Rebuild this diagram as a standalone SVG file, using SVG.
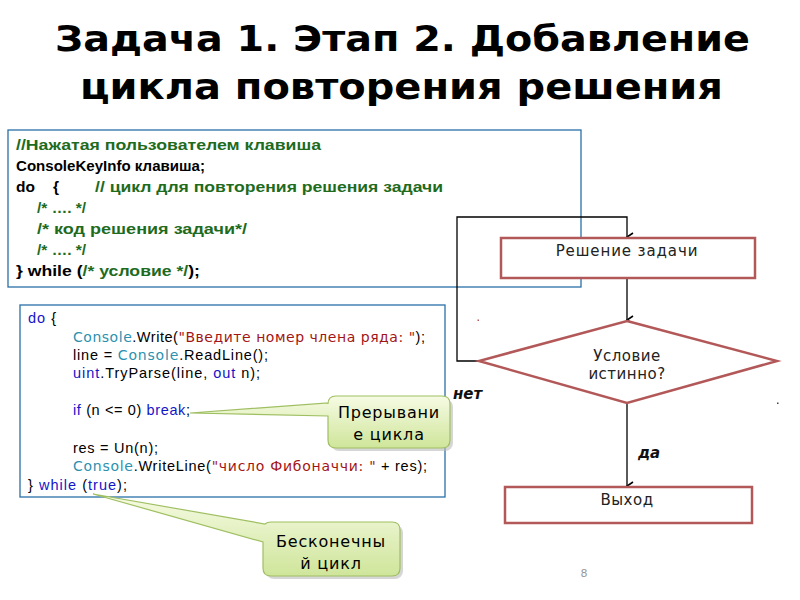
<svg xmlns="http://www.w3.org/2000/svg" width="800" height="600" viewBox="0 0 800 600">
<defs>
<linearGradient id="cg" x1="0" y1="0" x2="0" y2="1">
<stop offset="0" stop-color="#f6fbe4"/>
<stop offset="1" stop-color="#cfe59a"/>
</linearGradient>
<marker id="arr" viewBox="0 0 10 10" refX="5" refY="9" markerWidth="10" markerHeight="10" markerUnits="userSpaceOnUse" orient="auto-start-reverse">
<path d="M1,3 L5,9 L9,3" fill="none" stroke="#000" stroke-width="1.6"/>
</marker>
<style>
.title{font-family:"DejaVu Sans",sans-serif;font-weight:bold;font-size:35px;fill:#000}
.c1{font-family:"Liberation Sans",Arial,sans-serif;font-weight:bold;font-size:15.5px;fill:#000}
.g{fill:#1e6b1e}
.c2{font-family:"Liberation Sans",Arial,sans-serif;font-size:14.5px;fill:#000}
.t{fill:#2b91af;font-family:"DejaVu Sans",sans-serif;font-size:14px}
.s{fill:#a31515;font-family:"DejaVu Sans",sans-serif;font-size:14px}
.k{fill:#1414c8}
.box{fill:#fff;stroke:#2a6fa8;stroke-width:1.3}
.fn{fill:#fff;stroke:#b35858;stroke-width:2.5}
.ft{font-family:"DejaVu Sans",sans-serif;font-size:15px;fill:#222;text-anchor:middle;letter-spacing:0.5px}
.lbl{font-family:"DejaVu Sans",sans-serif;font-size:15px;font-weight:bold;font-style:italic;fill:#111}
.co{fill:url(#cg);stroke:#9fbf62;stroke-width:1.2}
.cs{fill:#bbb;opacity:0.6}
.ct{font-family:"DejaVu Sans",sans-serif;font-size:16px;fill:#000;text-anchor:middle;letter-spacing:0.8px}
.ln{fill:none;stroke:#000;stroke-width:1.3}
</style>
</defs>
<rect width="800" height="600" fill="#fff"/>
<text class="title" x="55" y="51" textLength="695" lengthAdjust="spacingAndGlyphs">Задача 1. Этап 2. Добавление</text>
<text class="title" x="80" y="99" textLength="643" lengthAdjust="spacingAndGlyphs">цикла повторения решения</text>

<g id="code1">
<rect class="box" x="8" y="130" width="573" height="157"/>
<text class="c1 g" x="16" y="150" textLength="305" lengthAdjust="spacingAndGlyphs">//Нажатая пользователем клавиша</text>
<text class="c1" x="16" y="171" textLength="189" lengthAdjust="spacingAndGlyphs">ConsoleKeyInfo клавиша;</text>
<text class="c1" x="16" y="192">do</text>
<text class="c1" x="53" y="192">{</text>
<text class="c1 g" x="95" y="192" textLength="348" lengthAdjust="spacingAndGlyphs">// цикл для повторения решения задачи</text>
<text class="c1 g" x="37" y="213">/* …. */</text>
<text class="c1 g" x="37" y="234" textLength="210" lengthAdjust="spacingAndGlyphs">/* код решения задачи*/</text>
<text class="c1 g" x="37" y="255">/* …. */</text>
<text class="c1" x="16" y="276" textLength="184" lengthAdjust="spacingAndGlyphs">} while (<tspan class="g">/* условие */</tspan>);</text>
</g>

<g id="code2">
<rect class="box" x="20" y="305" width="425" height="192"/>
<text class="c2" x="28" y="323" textLength="28"><tspan class="k">do</tspan> {</text>
<text class="c2" x="73" y="342" textLength="352"><tspan class="t">Console</tspan>.Write(<tspan class="s">"Введите номер члена ряда: "</tspan>);</text>
<text class="c2" x="73" y="360" textLength="195">line = <tspan class="t">Console</tspan>.ReadLine();</text>
<text class="c2" x="73" y="378" textLength="187"><tspan class="k">uint</tspan>.TryParse(line, <tspan class="k">out</tspan> n);</text>
<text class="c2" x="73" y="415" textLength="117"><tspan class="k">if</tspan> (n &lt;= 0) <tspan class="k">break</tspan>;</text>
<text class="c2" x="73" y="453" textLength="85">res = Un(n);</text>
<text class="c2" x="73" y="471" textLength="354"><tspan class="t">Console</tspan>.WriteLine(<tspan class="s">"число Фибоначчи: "</tspan> + res);</text>
<text class="c2" x="28" y="490" textLength="99">} <tspan class="k">while</tspan> (<tspan class="k">true</tspan>);</text>
</g>

<g id="connectors">
<polyline class="ln" points="479,361 457,361 457,217 627,217 627,237" marker-end="url(#arr)"/>
<line class="ln" x1="627" y1="278" x2="627" y2="320" marker-end="url(#arr)"/>
<line class="ln" x1="627" y1="403" x2="627" y2="486" marker-end="url(#arr)"/>
<text class="lbl" x="453" y="399">нет</text>
<text class="lbl" x="638" y="458">да</text>
</g>

<g id="n-solve">
<rect class="fn" x="501" y="238" width="254" height="40"/>
<text class="ft" x="627" y="256" style="letter-spacing:0.9px">Решение задачи</text>
</g>
<g id="n-cond">
<polygon class="fn" points="627,321 777,361 627,403 479,361"/>
<text class="ft" x="627" y="361">Условие</text>
<text class="ft" x="627" y="379">истинно?</text>
</g>
<g id="n-exit">
<rect class="fn" x="505" y="487" width="247" height="36"/>
<text class="ft" x="627" y="505">Выход</text>
</g>

<g id="callout-break">
<rect class="cs" x="331" y="399" width="122" height="52" rx="8"/>
<path class="co" d="M336,396 H442 Q450,396 450,404 V440 Q450,448 442,448 H336 Q328,448 328,440 V416 L190,413 L328,403 V404 Q328,396 336,396 Z"/>
<text class="ct" x="389" y="418">Прерывани</text>
<text class="ct" x="389" y="440">е цикла</text>
</g>
<g id="callout-inf">
<rect class="cs" x="266" y="525" width="137" height="54" rx="8"/>
<path class="co" d="M271,522 H392 Q400,522 400,530 V568 Q400,576 392,576 H271 Q263,576 263,568 V542 L93,494 L265,524 Q267,522 271,522 Z"/>
<text class="ct" x="331" y="547">Бесконечны</text>
<text class="ct" x="331" y="569">й цикл</text>
</g>

<text x="584" y="577" font-family="DejaVu Sans,sans-serif" font-size="11" fill="#999" text-anchor="middle">8</text>
<rect x="477.5" y="319.5" width="1.5" height="1.5" fill="#b35858"/>
<rect x="777" y="402.5" width="1.5" height="1.5" fill="#444"/>
</svg>
